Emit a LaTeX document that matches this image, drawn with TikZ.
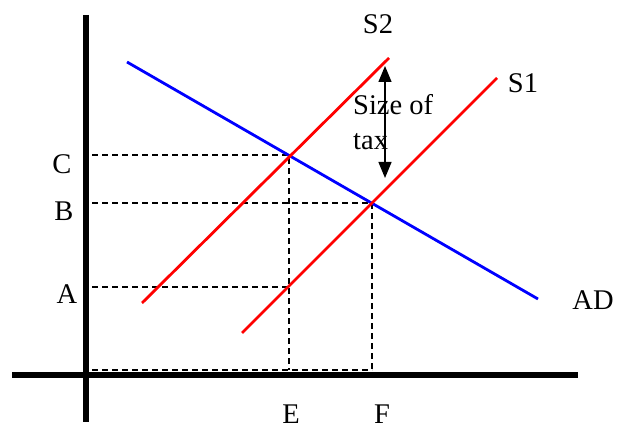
\documentclass[tikz,border=0pt]{standalone}
\usepackage{fontspec}
\setmainfont{Liberation Serif}
\usetikzlibrary{arrows.meta}
\begin{document}
\begin{tikzpicture}[x=1pt,y=-1pt,
  axis/.style={line width=5.5pt,black},
  curve/.style={line width=2.8pt},
  guide/.style={line width=1.3pt,dash pattern=on 6pt off 4pt},
  lbl/.style={font=\fontsize{28.5}{32}\selectfont,inner sep=0pt}]
\useasboundingbox (0,0) rectangle (617,430);
% coordinates
\coordinate (yt) at (86,15);
\coordinate (yb) at (86,422);
\coordinate (xl) at (12,375);
\coordinate (xr) at (578,375);
\coordinate (ad1) at (127,62);
\coordinate (ad2) at (538,299);
\coordinate (s2a) at (142,303);
\coordinate (s2b) at (389,58);
\coordinate (s1a) at (242,333);
\coordinate (s1b) at (497,78);
\coordinate (pC) at (289,155);
\coordinate (pB) at (372,203);
\coordinate (pA) at (289,287);
\coordinate (yC) at (92,155);
\coordinate (yB) at (92,203);
\coordinate (yA) at (92,287);
\coordinate (o) at (92,370);
\coordinate (xE) at (289,370);
\coordinate (xF) at (372,370);
\coordinate (at) at (385,66);
\coordinate (ab) at (385,178);
% guides
\draw[guide] (yC) -- (pC) -- (xE);
\draw[guide] (yB) -- (pB) -- (xF);
\draw[guide] (yA) -- (pA);
\draw[guide] (o) -- (xF);
% curves
\draw[curve,blue] (ad1) -- (ad2);
\draw[curve,red] (s2a) -- (s2b);
\draw[curve,red] (s1a) -- (s1b);
% axes
\draw[axis] (yt) -- (yb);
\draw[axis] (xl) -- (xr);
% tax arrow
\draw[line width=1.3pt,{Triangle[length=16pt,width=13pt]}-{Triangle[length=16pt,width=13pt]}] (at) -- (ab);
% labels
\node[lbl] (lC) at (62,164) {C};
\node[lbl] (lB) at (64,211) {B};
\node[lbl] (lA) at (67,294) {A};
\node[lbl] (lE) at (291,414) {E};
\node[lbl] (lF) at (382,414) {F};
\node[lbl] (lS2) at (378,24) {S2};
\node[lbl] (lS1) at (523,83) {S1};
\node[lbl] (lAD) at (593,300) {AD};
\node[lbl,anchor=base west] (t1) at (353,115) {Size of};
\node[lbl,anchor=base west] (t2) at (353,150) {tax};
\end{tikzpicture}
\end{document}
